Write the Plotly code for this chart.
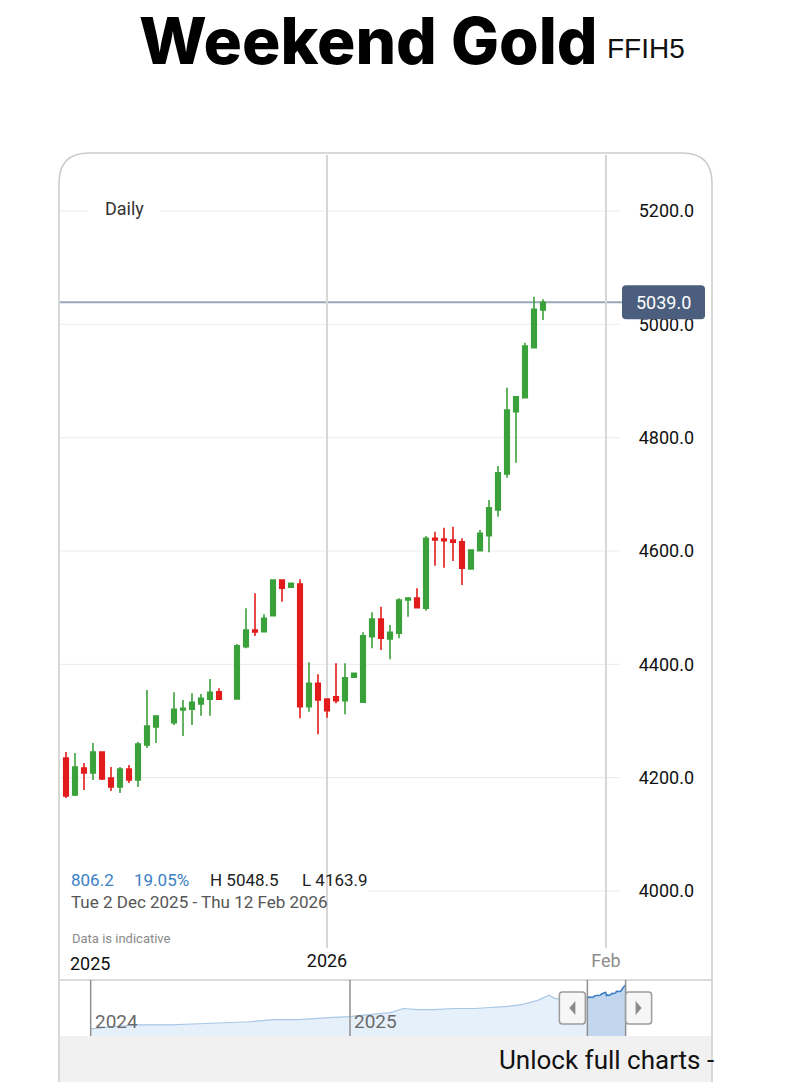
import plotly.graph_objects as go

W, H = 806, 1082
def px(x): return x / W
def py(y): return 1 - y / H

# ---------------- data ----------------
dates = ["2025-12-02","2025-12-03","2025-12-04","2025-12-05","2025-12-06","2025-12-07","2025-12-08",
         "2025-12-09","2025-12-10","2025-12-11","2025-12-12","2025-12-13",
         "2025-12-15","2025-12-16","2025-12-17","2025-12-18","2025-12-19","2025-12-20",
         "2025-12-22","2025-12-23","2025-12-24","2025-12-25","2025-12-26","2025-12-27","2025-12-28",
         "2025-12-29","2025-12-30","2025-12-31","2026-01-01","2026-01-02","2026-01-03","2026-01-04",
         "2026-01-05","2026-01-06","2026-01-07","2026-01-08","2026-01-09","2026-01-10","2026-01-11",
         "2026-01-12","2026-01-13","2026-01-14","2026-01-15","2026-01-16","2026-01-17","2026-01-18",
         "2026-01-19","2026-01-20","2026-01-21","2026-01-22","2026-01-23","2026-01-24","2026-01-25"]
opens = [4218.0,4234.7,4169.4,4217.1,4208.2,4245.3,4199.4,4183.5,4215.3,4195.9,4257.7,4289.4,
         4297.0,4319.4,4320.6,4330.0,4338.3,4351.7,
         4338.8,4431.1,4460.6,4457.6,4485.8,4548.8,4535.9,
         4541.8,4325.2,4366.5,4338.8,4342.9,4335.8,4377.1,
         4333.0,4448.8,4480.0,4444.7,4454.8,4513.5,4517.0,
         4498.9,4622.4,4621.0,4619.4,4616.4,4568.2,4600.5,
         4627.0,4672.4,4736.0,4845.8,4870.5,4958.8,5025.3]
highs = [4242.0,4245.3,4243.5,4225.9,4261.2,4246.5,4218.8,4218.8,4222.4,4263.0,4354.7,4310.6,
         4350.6,4337.1,4348.9,4347.6,4374.1,4357.7,
         4435.9,4498.9,4525.4,4488.3,4550.0,4550.0,4544.0,
         4550.0,4403.6,4382.4,4340.0,4401.8,4401.8,4385.0,
         4456.5,4491.8,4501.7,4469.4,4516.5,4518.0,4534.2,
         4626.5,4634.1,4641.1,4642.9,4622.4,4603.0,4637.1,
         4690.0,4750.0,4888.2,4873.0,4967.6,5048.5,5044.2]
lows = [4210.0,4163.9,4167.6,4178.3,4195.9,4195.9,4176.5,4172.9,4190.6,4183.5,4252.4,4261.2,
        4292.9,4273.5,4292.9,4309.3,4309.3,4337.5,
        4337.5,4428.3,4450.0,4456.0,4485.0,4510.5,4535.0,
        4304.8,4316.4,4276.5,4305.8,4331.2,4311.8,4376.0,
        4332.5,4428.3,4425.3,4408.9,4445.9,4484.0,4499.0,
        4494.7,4574.1,4570.6,4582.4,4540.0,4567.5,4599.0,
        4597.7,4660.5,4729.4,4755.8,4869.0,4958.0,5007.6]
closes = [4232.8,4167.6,4218.8,4208.2,4245.3,4197.6,4183.5,4215.3,4195.9,4259.4,4291.2,4308.8,
          4320.6,4322.4,4333.0,4340.0,4350.6,4338.3,
          4432.9,4460.6,4457.1,4481.2,4548.8,4534.2,4543.0,
          4325.2,4366.5,4337.1,4318.2,4335.8,4376.4,4384.2,
          4450.5,4480.0,4445.9,4456.5,4513.5,4517.0,4499.9,
          4622.4,4619.4,4618.0,4615.4,4569.5,4601.8,4631.2,
          4676.4,4738.2,4848.8,4872.3,4961.8,5026.5,5039.0]

y_ticks = [4000, 4200, 4400, 4600, 4800, 5000, 5200]
x_tick_vals = ["2026-01-01", "2026-02-01"]
x_tick_text = ["2026", "<span style='color:#8c8c8c'>Feb</span>"]
range_text = "Tue 2 Dec 2025 - Thu 12 Feb 2026"

# navigator (long history)
nav_dates = ["2024-01-01","2024-01-29","2024-03-09","2024-04-22","2024-06-03","2024-07-07",
             "2024-08-12","2024-09-15","2024-10-21","2024-12-02","2024-12-31","2025-01-28",
             "2025-02-27","2025-03-17","2025-04-07","2025-04-29","2025-05-27","2025-06-27",
             "2025-07-22","2025-08-12","2025-09-02","2025-09-23","2025-10-09","2025-10-17",
             "2025-11-04","2025-11-24","2025-12-02"]
nav_values = [2050,2189,2328,2328,2398,2467,2537,2676,2676,2815,2884,3023,
              3162,3440,3370,3370,3440,3440,3510,3579,3718,3996,4343,4135,
              3996,4135,4232.8]
nav_years = ["2024-01-01", "2025-01-01"]
nav_year_text = ["2024", "2025"]

GREEN = "#3ba13b"
RED = "#e21c1c"

fig = go.Figure()

fig.add_trace(go.Candlestick(
    x=dates, open=opens, high=highs, low=lows, close=closes,
    increasing=dict(line=dict(color=GREEN, width=1.6), fillcolor=GREEN),
    decreasing=dict(line=dict(color=RED, width=1.6), fillcolor=RED),
    whiskerwidth=0, showlegend=False, xaxis="x", yaxis="y"))

# navigator
fig.add_trace(go.Scatter(x=nav_dates, y=nav_values, mode="lines",
                         line=dict(color="#a9c8e8", width=1.2), fill="tozeroy",
                         fillcolor="#e6f0fa", showlegend=False, xaxis="x2", yaxis="y2"))
fig.add_trace(go.Scatter(x=dates, y=closes, mode="lines",
                         line=dict(color="#3b7cc2", width=1.5), fill="tozeroy",
                         fillcolor="#c2d7ee", showlegend=False, xaxis="x2", yaxis="y2"))

shapes = []
# grey bottom band
shapes.append(dict(type="rect", xref="paper", yref="paper", x0=px(59.5), x1=px(711.5),
                   y0=py(1090), y1=py(1036), fillcolor="#f1f1f1", line=dict(width=0), layer="below"))
# horizontal gridlines
for v in y_ticks:
    shapes.append(dict(type="line", xref="paper", yref="y", x0=px(60), x1=px(620), y0=v, y1=v,
                       line=dict(color="#ebebeb", width=1), layer="below"))
# white backdrops for labels
shapes.append(dict(type="rect", xref="paper", yref="paper", x0=px(88), x1=px(160), y0=py(224), y1=py(196),
                   fillcolor="white", line=dict(width=0), layer="below"))
shapes.append(dict(type="rect", xref="paper", yref="paper", x0=px(60), x1=px(368), y0=py(914), y1=py(868),
                   fillcolor="white", line=dict(width=0), layer="below"))
# last price line
last = closes[-1]
shapes.append(dict(type="line", xref="paper", yref="y", x0=px(60), x1=px(622), y0=last, y1=last,
                   line=dict(color="#9ba7b9", width=2), layer="below"))
# price tag (rounded)
xa, xb, r = px(622), px(705), 4
rx = r / W
tag = (f"M {xa+rx},-17 L {xb-rx},-17 Q {xb},-17 {xb},-13 L {xb},13 Q {xb},17 {xb-rx},17 "
       f"L {xa+rx},17 Q {xa},17 {xa},13 L {xa},-13 Q {xa},-17 {xa+rx},-17 Z")
shapes.append(dict(type="path", xref="paper", yref="y", ysizemode="pixel", yanchor=last, path=tag,
                   fillcolor="#4b5e7e", line=dict(width=0), layer="above"))
# navigator top line
shapes.append(dict(type="line", xref="paper", yref="paper", x0=px(59), x1=px(712), y0=py(980), y1=py(980),
                   line=dict(color="#d0d0d0", width=1.5)))
# navigator year lines and selection edges
for d in nav_years + [dates[0], dates[-1]]:
    shapes.append(dict(type="line", xref="x2", yref="paper", x0=d, x1=d, y0=py(1036), y1=py(980),
                       line=dict(color="#8f8f8f", width=1.5), layer="above"))
# handles
def handle(a, b):
    t, bt = py(992), py(1024)
    return (f"M {a+3},{t} L {b-3},{t} Q {b},{t} {b},{t-0.003} L {b},{bt+0.003} Q {b},{bt} {b-3},{bt} "
            f"L {a+3},{bt} Q {a},{bt} {a},{bt+0.003} L {a},{t-0.003} Q {a},{t} {a+3},{t} Z")
shapes.append(dict(type="path", xref="x2", yref="paper", xsizemode="pixel", xanchor=dates[0],
                   path=handle(-28, -2), fillcolor="#f6f6f6", line=dict(color="#9c9c9c", width=1.5),
                   layer="above"))
shapes.append(dict(type="path", xref="x2", yref="paper", xsizemode="pixel", xanchor=dates[-1],
                   path=handle(0, 26), fillcolor="#f6f6f6", line=dict(color="#9c9c9c", width=1.5),
                   layer="above"))
shapes.append(dict(type="path", xref="x2", yref="paper", xsizemode="pixel", xanchor=dates[0],
                   path=f"M -18,{py(1008)} L -12,{py(1001)} L -12,{py(1015)} Z",
                   fillcolor="#8a8a8a", line=dict(width=0), layer="above"))
shapes.append(dict(type="path", xref="x2", yref="paper", xsizemode="pixel", xanchor=dates[-1],
                   path=f"M 10,{py(1001)} L 10,{py(1015)} L 16,{py(1008)} Z",
                   fillcolor="#8a8a8a", line=dict(width=0), layer="above"))
# outer rounded box
x0b, x1b, yt = px(59), px(712), py(153)
rxb, ryb = 30 / W, 30 / H
box = (f"M {x0b},{py(1095)} L {x0b},{yt-ryb} Q {x0b},{yt} {x0b+rxb},{yt} L {x1b-rxb},{yt} "
       f"Q {x1b},{yt} {x1b},{yt-ryb} L {x1b},{py(1095)}")
shapes.append(dict(type="path", xref="paper", yref="paper", path=box,
                   line=dict(color="#cbcbcb", width=1.5), layer="above"))

ann = []
def text(x, y, s, size, color="#111", anchor="left", family="Roboto", **kw):
    ann.append(dict(x=px(x), y=py(y), xref="paper", yref="paper", text=s, showarrow=False,
                    xanchor=anchor, yanchor="middle", font=dict(size=size, color=color, family=family), **kw))

ann.append(dict(x=px(600), y=1, xref="paper", yref="paper", text="Weekend Gold", showarrow=False,
                xanchor="right", yanchor="top",
                font=dict(size=64, color="#000", family="Inter", weight=800)))
text(605, 48, "FFIH5", 28, "#111", family="Liberation Sans Narrow, Liberation Sans")
text(103, 208, "Daily", 18, "#333")

change = closes[-1] - closes[0]
pct = change / closes[0] * 100
text(69, 880, f"{change:.1f}", 17, "#3b7fc4")
text(132, 880, f"{pct:.2f}%", 17, "#3b7fc4")
text(208, 880, f"H {max(highs):.1f}", 17, "#222")
text(300, 880, f"L {min(lows):.1f}", 17, "#222")
text(69, 902, range_text, 17, "#555")
text(70, 938, "Data is indicative", 13, "#8a8a8a")
text(68, 963, "2025", 18, "#111")
text(497, 1060, "Unlock full charts -", 26, "#111")

ann.append(dict(x=0.5 * (px(622) + px(705)), y=last, xref="paper", yref="y", text=f"{last:.1f}",
                showarrow=False, xanchor="center", yanchor="middle",
                font=dict(size=18, color="white", family="Roboto")))
for d, s in zip(nav_years, nav_year_text):
    ann.append(dict(x=d, y=py(1021), xref="x2", yref="paper", text=s, showarrow=False,
                    xanchor="left", yanchor="middle", xshift=2,
                    font=dict(size=19, color="#6a6a6a", family="Roboto")))

y_lo = 5200 - (948 - 211) * 200 / 113.33
y_hi = 5200 + (211 - 155) * 200 / 113.33

fig.update_layout(
    width=W, height=H, margin=dict(l=0, r=0, t=0, b=0),
    paper_bgcolor="white", plot_bgcolor="rgba(0,0,0,0)",
    font=dict(family="Roboto"),
    boxgap=0.28,
    showlegend=False,
    shapes=shapes, annotations=ann,
    xaxis=dict(domain=[px(60), px(711)], type="date",
               range=["2025-12-02 08:00", "2026-02-12 16:00"],
               tickmode="array", tickvals=x_tick_vals, ticktext=x_tick_text,
               showgrid=True, gridcolor="#d6d6d6", gridwidth=1.5,
               tickfont=dict(size=18, color="#111"), ticks="", showline=False, zeroline=False,
               rangeslider=dict(visible=False), anchor="y", fixedrange=True),
    yaxis=dict(domain=[py(948), py(155)], range=[y_lo, y_hi], side="right",
               tickmode="array", tickvals=y_ticks, tickformat=".1f",
               ticklabelposition="inside", ticklabelstandoff=14,
               showgrid=False, zeroline=False, showline=False, ticks="",
               tickfont=dict(size=18, color="#111"), anchor="x", fixedrange=True),
    xaxis2=dict(domain=[px(60), px(711)], type="date",
                range=["2023-11-18 17:00", "2026-05-25 12:00"],
                visible=False, anchor="y2", fixedrange=True),
    yaxis2=dict(domain=[py(1036), py(980)], range=[1563, 5386],
                visible=False, anchor="x2", fixedrange=True),
)

fig.write_html("out.html", config={"displayModeBar": False})
